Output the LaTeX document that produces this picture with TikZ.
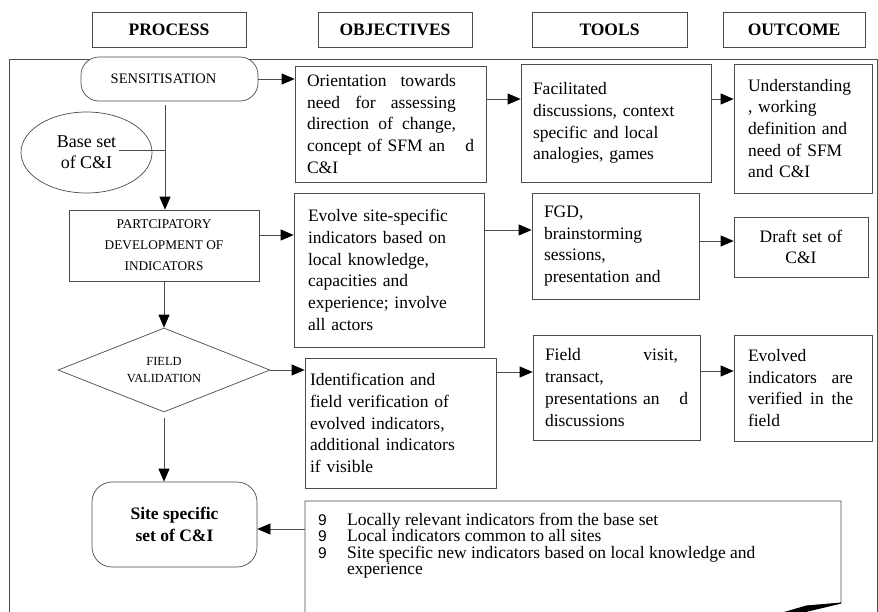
\documentclass[tikz,border=0pt]{standalone}
\usepackage{fontspec}
\setmainfont{Liberation Serif}
\setsansfont{Liberation Sans}
\usepackage{tikz}
\usetikzlibrary{calc,arrows.meta,shapes.geometric}

\begin{document}
\begin{tikzpicture}[x=1pt,y=-1pt,
    grayline/.style={draw=black!70,line width=0.7pt},
    arr/.style={grayline,-{Triangle[length=13pt,width=11pt,black]}},
    hdr/.style={grayline,rectangle,fill=white,minimum height=35pt,inner sep=0pt,font=\fontsize{17.5}{21}\selectfont\bfseries},
    txtbox/.style={grayline,rectangle,fill=white,align=left,inner xsep=12pt,inner ysep=0pt,font=\fontsize{17.5}{21.7}\selectfont},
    outbox/.style={txtbox,inner xsep=14pt,text width=110pt}]
    \clip (0,0) rectangle (878,611);
    \draw[grayline] (9,620) -- (9,59.5) -- (877,59.5) -- (877,620);
    \node[hdr,minimum width=154pt] (hproc) at (169,29.5) {PROCESS};
    \node[hdr,minimum width=154pt] (hobj) at (395,29.5) {OBJECTIVES};
    \node[hdr,minimum width=155pt] (htool) at (609.5,29.5) {TOOLS};
    \node[hdr,minimum width=142pt] (hout) at (794,29.5) {OUTCOME};
    \node[grayline,rounded corners=18pt,fill=white,minimum width=177pt,minimum height=44pt,font=\fontsize{14.5}{17}\selectfont] (sens) at (169.5,79) {\hspace*{-12pt}\raisebox{-2pt}{SENSITISATION}};
    \node[grayline,ellipse,fill=white,minimum width=131pt,minimum height=81pt,inner sep=0pt,align=center,font=\fontsize{18}{21}\selectfont] (base) at (86.5,152.5) {Base set\\of C\&I};
    \node[grayline,fill=white,minimum width=190pt,minimum height=71pt,align=center,font=\fontsize{13.3}{21}\selectfont] (part) at (164,245.5) {PARTCIPATORY\\DEVELOPMENT OF\\INDICATORS};
    \node[grayline,diamond,fill=white,minimum width=212pt,minimum height=84pt,inner sep=0pt,aspect=2.5,align=center,font=\fontsize{12.4}{17}\selectfont] (field) at (164,370) {FIELD\\VALIDATION};
    \node[grayline,fill=white,rounded corners=20pt,minimum width=165pt,minimum height=85pt,align=center,font=\fontsize{17.5}{22}\selectfont\bfseries] (site) at (174.5,524.5) {Site specific\\set of C\&I};
    \node[txtbox,text width=167pt,minimum height=116pt] (obj1) at (390.5,124) {\makebox[149pt][l]{Orientation\hfill towards}\\\makebox[149pt][l]{need\hfill for\hfill assessing}\\\makebox[149pt][l]{direction\hfill of\hfill change,}\\concept of SFM an\hfill d\\C\&I};
    \node[txtbox,text width=166pt,minimum height=118pt] (tools1) at (616,123) {Facilitated\\discussions, context\\specific and local\\analogies, games};
    \node[outbox,minimum height=129pt] (out1) at (803,128.5) {Understanding\\, working\\definition and\\need of SFM\\and C\&I};
    \node[txtbox,inner xsep=14pt,text width=162pt,minimum height=154pt] (obj2) at (389,270) {Evolve site-specific\\indicators based on\\local knowledge,\\capacities and\\experience; involve\\all actors};
    \node[txtbox,text width=143pt,minimum height=106pt] (tools2) at (615.5,246) {FGD,\\brainstorming\\sessions,\\presentation and};
    \node[txtbox,align=center,text width=110pt,minimum height=60pt] (out2) at (801,247) {Draft set of\\C\&I};
    \node[txtbox,inner xsep=5pt,text width=181pt,minimum height=130pt] (obj3) at (400.5,423) {Identification and\\field verification of\\evolved indicators,\\additional indicators\\if visible};
    \node[txtbox,text width=143pt,minimum height=105pt] (tools3) at (616.5,387.5) {\makebox[133pt][l]{Field\hfill visit,}\\transact,\\presentations an\hfill d\\discussions};
    \node[outbox,minimum height=106pt] (out3) at (803,388) {Evolved\\\makebox[105pt][l]{indicators\hfill are}\\\makebox[105pt][l]{verified\hfill in\hfill the}\\field};
    \draw[grayline] (305,620) -- (305,501) -- (841,501) -- (841,603) -- (806,606);
    \fill[black] (841,602.6) -- (806,605.6) -- (784,612) -- (806,612) -- (841,603.6) -- cycle;
    \node[anchor=north west,align=left,inner sep=0pt,font=\fontsize{17.5}{16.4}\selectfont] (blist) at (318,513) {\makebox[29pt][l]{\sffamily\fontsize{15.5}{16}\selectfont 9}Locally relevant indicators from the base set\\\makebox[29pt][l]{\sffamily\fontsize{15.5}{16}\selectfont 9}Local indicators common to all sites\\\makebox[29pt][l]{\sffamily\fontsize{15.5}{16}\selectfont 9}Site specific new indicators based on local knowledge and\\\hspace*{29pt}experience};
    \coordinate (join) at (165,150);
    \coordinate (btail) at (119,150);
    \coordinate (bleft) at (305,529);
    \draw[grayline] (btail) -- (join);
    \draw[arr] ($(join |- sens.south)+(0,4)$) -- (join |- part.north);
    \draw[arr] (part.south) -- (field.north);
    \draw[arr] ($(field.south)+(0,6)$) -- (field.south |- site.north);
    \draw[arr] (bleft) -- (site.east |- bleft);
    \draw[arr] (sens.east) -- (sens.east -| obj1.west);
    \draw[arr] (obj1.east |- 0,99) -- (tools1.west |- 0,99);
    \draw[arr] (tools1.east |- 0,99) -- (out1.west |- 0,99);
    \draw[arr] (part.east |- 0,235) -- (obj2.west |- 0,235);
    \draw[arr] (obj2.east |- 0,230) -- (tools2.west |- 0,230);
    \draw[arr] (tools2.east |- 0,241) -- (out2.west |- 0,241);
    \draw[arr] (field.east) -- (field.east -| obj3.west);
    \draw[arr] (obj3.east |- 0,372) -- (tools3.west |- 0,372);
    \draw[arr] (tools3.east |- 0,371) -- (out3.west |- 0,371);
\end{tikzpicture}
\end{document}
